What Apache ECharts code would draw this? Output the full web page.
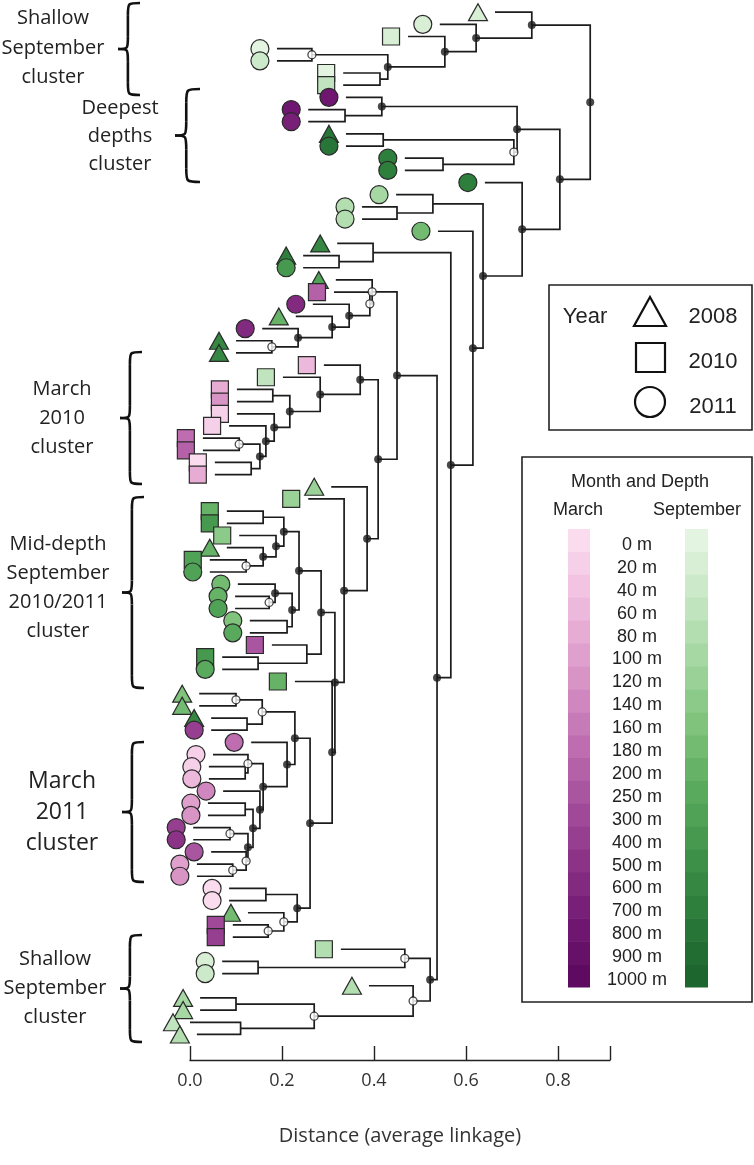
<!DOCTYPE html>
<html><head><meta charset="utf-8">
<script src="https://cdn.jsdelivr.net/npm/echarts@6/dist/echarts.min.js"></script>
<style>html,body{margin:0;padding:0;background:#fff}#c{width:754px;height:1165px}</style>
</head><body><div id="c"></div>
<script>
// ---------- DATA ----------
const leafYear = [2008,2011,2010,2011,2011,2010,2010,2011,2011,2011,
 2008,2011,2011,2011,2011,2011,2011,2011,2011,2008,
 2008,2011,2008,2010,2011,2008,2011,2008,2008,2010,
 2010,2010,2010,2010,2010,2010,2010,2010,2010,2008,
 2010,2010,2010,2010,2008,2010,2011,2011,2011,2011,
 2011,2011,2010,2010,2011,2010,2008,2008,2008,2011,
 2011,2011,2011,2011,2011,2011,2011,2011,2011,2011,
 2011,2011,2011,2011,2008,2010,2010,2010,2011,2011,
 2008,2008,2008,2008,2008];
const leafMonth = ['S','S','S','S','S','S','S','M','M','M',
 'S','S','S','S','S','S','S','S','S','S',
 'S','S','S','M','M','S','M','S','S','M',
 'S','M','M','M','M','M','M','M','M','S',
 'S','S','S','S','S','S','S','S','S','S',
 'S','S','M','S','S','S','S','S','S','M',
 'M','M','M','M','M','M','M','M','M','M',
 'M','M','M','M','S','M','M','S','S','S',
 'S','S','S','S','S'];
const leafDepth = [1,1,1,0,2,0,3,17,17,16,
 17,17,16,16,16,5,4,4,9,15,
 16,13,12,10,15,10,15,15,15,3,
 3,4,6,1,1,9,10,0,4,6,
 6,10,13,7,10,12,12,9,10,12,
 8,11,11,13,11,10,8,9,15,13,
 9,1,1,3,7,5,6,13,14,11,
 5,6,0,0,9,12,13,4,1,2,
 4,5,5,3,4];
const leafStart = [0.663,0.543,0.474,0.189,0.189,0.333,0.333,0.339,0.257,0.257,
 0.339,0.339,0.467,0.467,0.641,0.448,0.374,0.374,0.539,0.320,
 0.246,0.246,0.317,0.313,0.267,0.230,0.157,0.100,0.100,0.291,
 0.202,0.102,0.102,0.102,0.085,0.028,0.028,0.054,0.054,0.307,
 0.257,0.080,0.080,0.107,0.080,0.043,0.043,0.104,0.098,0.098,
 0.130,0.130,0.178,0.070,0.070,0.228,0.020,0.020,0.046,0.046,
 0.133,0.050,0.041,0.041,0.072,0.039,0.039,0.007,0.007,0.046,
 0.015,0.015,0.085,0.085,0.126,0.093,0.093,0.328,0.070,0.070,
 0.389,0.022,0.022,0.000,0.015];
const merges = [
 ['a1',3,4,0.265,2],['a2',5,6,0.413,0],['a3','a1','a2',0.430,1],['a4',2,'a3',0.554,1],
 ['a5',1,'a4',0.622,1],['a6',0,'a5',0.743,1],
 ['b1',8,9,0.337,0],['b2',7,'b1',0.417,1],['b3',10,11,0.420,0],['b4',12,13,0.550,0],
 ['b5','b3','b4',0.704,2],['b6','b2','b5',0.711,1],
 ['c1',16,17,0.450,0],['c2',15,'c1',0.528,0],['c3',20,21,0.324,0],['c4',19,'c3',0.398,0],
 ['d1',27,28,0.178,2],['d2',26,'d1',0.235,1],['d3',25,'d2',0.309,1],['d4',24,'d3',0.346,1],
 ['d5',23,'d4',0.391,2],['d6',22,'d5',0.396,2],
 ['e1',35,36,0.107,2],['e2',37,38,0.133,0],['e3','e1','e2',0.152,1],['e4',34,'e3',0.165,1],
 ['e5',33,'e4',0.183,1],['e6',31,32,0.180,0],['e7','e6','e5',0.217,1],['e8',30,'e7',0.283,1],
 ['e9',29,'e8',0.370,1],
 ['f1',41,42,0.159,0],['f2',45,46,0.122,2],['f3',44,'f2',0.159,1],['f4',43,'f3',0.187,1],
 ['f5','f1','f4',0.204,1],['f6',48,49,0.172,2],['f7',47,'f6',0.185,1],['f8',50,51,0.211,0],
 ['f9','f7','f8',0.222,1],['f10','f5','f9',0.237,1],['f11',53,54,0.148,0],['f12',52,'f11',0.254,0],
 ['f13','f10','f12',0.285,1],
 ['g1',56,57,0.100,2],['g2',58,59,0.124,0],['g3','g1','g2',0.157,2],['g4',62,63,0.120,0],
 ['g5',61,'g4',0.126,2],['g6',65,66,0.120,0],['g7',67,68,0.087,2],['g8',70,71,0.093,2],
 ['g9',69,'g8',0.122,2],['g10','g7','g9',0.126,1],['g11','g6','g10',0.137,1],['g12',64,'g11',0.152,1],
 ['g13','g5','g12',0.159,1],['g14',60,'g13',0.211,1],['g15','g3','g14',0.228,1],
 ['g16',72,73,0.165,0],['g17',75,76,0.170,2],['g18',74,'g17',0.204,2],['g19','g16','g18',0.233,1],
 ['g20','g15','g19',0.261,1],['g21',55,'g20',0.309,1],['g22','f13','g21',0.315,1],
 ['g23',40,'g22',0.335,1],['g24',39,'g23',0.385,1],['g25','e9','g24',0.409,1],['g26','d6','g25',0.450,1],
 ['h1',78,79,0.148,0],['h2',77,'h1',0.467,2],['h4',81,82,0.100,0],['h5',83,84,0.110,0],
 ['h6','h4','h5',0.270,2],['h3',80,'h6',0.485,2],['h7','h2','h3',0.522,1],
 ['i1','g26','h7',0.537,1],['i2','c4','i1',0.567,1],['i3',18,'i2',0.615,1],['i4','c2','i3',0.637,1],
 ['i5',14,'i4',0.722,1],['i6','b6','i5',0.804,1],['root','a6','i6',0.870,1]
];
const xTickLabels = ['0.0','0.2','0.4','0.6','0.8'];
const depthLabels = ['0 m','20 m','40 m','60 m','80 m','100 m','120 m','140 m','160 m','180 m',
 '200 m','250 m','300 m','400 m','500 m','600 m','700 m','800 m','900 m','1000 m'];
const marchColors = ['#fadcee','#f6d0e8','#f2c4e2','#ecb8db','#e7acd4','#e0a0cd','#d994c6','#d087bf',
 '#c77ab8','#be6db0','#b461a8','#aa55a0','#a04998','#963e90','#8c3388','#822980','#781f78','#6f1770','#661068','#5d0a60'];
const septColors = ['#e3f4e1','#d8efd5','#cceac9','#c0e4bd','#b3deb0','#a6d8a3','#99d196','#8cca89',
 '#7fc37d','#72bb71','#66b367','#5aaa5e','#50a256','#46994f','#3d9048','#358742','#2e7f3c','#287637','#226e32','#1d662d'];
const yearSymbols = {2008:'triangle',2010:'rect',2011:'circle'};

// ---------- BUILD ----------
const MARKER_OFFSET = 0.037;
const nodes = {};
function pos(c){ return typeof c === 'number' ? {x: leafStart[c], y: c} : nodes[c]; }
const segs = [], filled = [], open = [];
merges.forEach(([name,a,b,h,mark])=>{
  const A = pos(a), B = pos(b);
  const y = (A.y + B.y) / 2;
  nodes[name] = {x: h, y: y};
  segs.push([[A.x, A.y],[h, A.y],[h, B.y],[B.x, B.y]]);
  if (mark === 1) filled.push([h, y]); else if (mark === 2) open.push([h, y]);
});
const leafData = leafYear.map((yr,i)=>{
  const sym = yearSymbols[yr];
  return {
    value: [leafStart[i] - MARKER_OFFSET, i],
    symbol: sym,
    symbolSize: sym === 'circle' ? 18 : (sym === 'rect' ? 17 : [19,17]),
    itemStyle: {color: (leafMonth[i] === 'M' ? marchColors : septColors)[leafDepth[i]]}
  };
});

// ---------- LAYOUT ----------
const ROW = 12.17, YMAX = 86.1;
const gridH = ROW * (YMAX + 1);
const FONT = '"Open Sans", sans-serif';
const LFONT = '"Liberation Sans", Arial, sans-serif';

const graphics = [];
const BST = {fill:'none', stroke:'#111', lineWidth:2.6};
function brace(x, y1, y2, w){
  const xe = x + w, xm = x + w*0.45, ym = (y1+y2)/2, r = w*0.55;
  const bz = (x1,y1_,x2,y2_,c1x,c1y,c2x,c2y)=>graphics.push({type:'bezierCurve', shape:{x1:x1,y1:y1_,x2:x2,y2:y2_,cpx1:c1x,cpy1:c1y,cpx2:c2x,cpy2:c2y}, style:BST});
  const ln = (x1,y1_,x2,y2_)=>graphics.push({type:'line', shape:{x1:x1,y1:y1_,x2:x2,y2:y2_}, style:BST});
  bz(xe,y1, xm,y1+r, xm,y1, xm,y1);
  ln(xm,y1+r, xm,ym-r);
  bz(xm,ym-r, x,ym, xm,ym, xm,ym);
  bz(x,ym, xm,ym+r, xm,ym, xm,ym);
  ln(xm,ym+r, xm,y2-r);
  bz(xm,y2-r, xe,y2, xm,y2, xm,y2);
}
function label(txt,x,yc,size,lh){ graphics.push({type:'text', x:x, y:yc, style:{text:txt, font:`${size}px ${FONT}`, fill:'#222', align:'center', verticalAlign:'middle', lineHeight:lh}}); }

label('Shallow\nSeptember\ncluster', 53, 48, 20, 29.5); brace(118, 3, 95, 22);
label('Deepest\ndepths\ncluster', 120, 136, 20, 28); brace(175, 89, 182, 25);
label('March\n2010\ncluster', 62, 418, 20, 29); brace(120, 352, 484, 22);
label('Mid-depth\nSeptember\n2010/2011\ncluster', 58, 588, 20, 29); brace(122, 497, 688, 22);
label('March\n2011\ncluster', 62, 812, 23, 31); brace(122, 742, 882, 22);
label('Shallow\nSeptember\ncluster', 55, 988, 20, 29); brace(120, 935, 1042, 22);

// Year legend
graphics.push({type:'rect', shape:{x:549, y:285, width:203, height:145}, style:{fill:'#fff', stroke:'#222', lineWidth:1.6}});
graphics.push({type:'text', x:585, y:317, style:{text:'Year', font:`22px ${LFONT}`, fill:'#222', align:'center', verticalAlign:'middle'}});
graphics.push({type:'polygon', shape:{points:[[650,297],[634,326],[666,326]]}, style:{fill:'none', stroke:'#111', lineWidth:2.2}});
graphics.push({type:'rect', shape:{x:636, y:343, width:29, height:29}, style:{fill:'none', stroke:'#111', lineWidth:2.2}});
graphics.push({type:'circle', shape:{cx:650, cy:402, r:15}, style:{fill:'none', stroke:'#111', lineWidth:2.2}});
['2008','2010','2011'].forEach((t,i)=>graphics.push({type:'text', x:713, y:317+45*i, style:{text:t, font:`22px ${LFONT}`, fill:'#222', align:'center', verticalAlign:'middle'}}));
// Month & depth legend
graphics.push({type:'rect', shape:{x:522, y:457, width:230, height:545}, style:{fill:'#fff', stroke:'#222', lineWidth:1.6}});
graphics.push({type:'text', x:640, y:482, style:{text:'Month and Depth', font:`18px ${LFONT}`, fill:'#222', align:'center', verticalAlign:'middle'}});
graphics.push({type:'text', x:578, y:510, style:{text:'March', font:`18px ${LFONT}`, fill:'#222', align:'center', verticalAlign:'middle'}});
graphics.push({type:'text', x:697, y:510, style:{text:'September', font:`18px ${LFONT}`, fill:'#222', align:'center', verticalAlign:'middle'}});
depthLabels.forEach((t,i)=>{
  graphics.push({type:'rect', shape:{x:568, y:529+22.9*i, width:22, height:23.4}, style:{fill:marchColors[i]}});
  graphics.push({type:'rect', shape:{x:685, y:529+22.9*i, width:23, height:23.4}, style:{fill:septColors[i]}});
  graphics.push({type:'text', x:637, y:545+22.9*i, style:{text:t, font:`18px ${LFONT}`, fill:'#222', align:'center', verticalAlign:'middle'}});
});

const chart = echarts.init(document.getElementById('c'));
chart.setOption({
  animation: false,
  backgroundColor: '#fff',
  grid: {left:190, width:420, top:0, height:gridH},
  xAxis: {type:'value', min:0, max:0.913, interval:0.2, position:'bottom',
    axisLine:{show:true, onZero:false, lineStyle:{color:'#222', width:1.4}},
    axisTick:{show:true, inside:true, length:14, lineStyle:{color:'#222', width:1.4}},
    axisLabel:{color:'#333', fontSize:18, fontFamily:FONT, margin:12, formatter:v=>xTickLabels[Math.round(v/0.2)] || ''},
    splitLine:{show:false},
    name:'Distance (average linkage)', nameLocation:'middle', nameGap:66,
    nameTextStyle:{color:'#333', fontSize:20, fontFamily:FONT}},
  yAxis: {type:'value', min:-1, max:YMAX, inverse:true, show:false},
  series: [
    {type:'custom', clip:false, silent:true, z:1,
     data: segs.map(s=>[s[1][0], s[1][1]]),
     renderItem:(params, api)=>({type:'polyline', shape:{points: segs[params.dataIndex].map(p=>api.coord(p))},
        style:{stroke:'#1c1c1c', lineWidth:1.7, fill:'none'}})},
    {type:'scatter', clip:false, silent:true, z:3, data: leafData,
     itemStyle:{borderColor:'#2a2a2a', borderWidth:1.2, opacity:1}},
    {type:'scatter', clip:false, silent:true, z:4, symbol:'circle', symbolSize:8, data: filled,
     itemStyle:{color:'#1a1a1a'}},
    {type:'scatter', clip:false, silent:true, z:4, symbol:'circle', symbolSize:8, data: open,
     itemStyle:{color:'#fff', borderColor:'#1a1a1a', borderWidth:1.3}}
  ],
  graphic: graphics
});
</script></body></html>
